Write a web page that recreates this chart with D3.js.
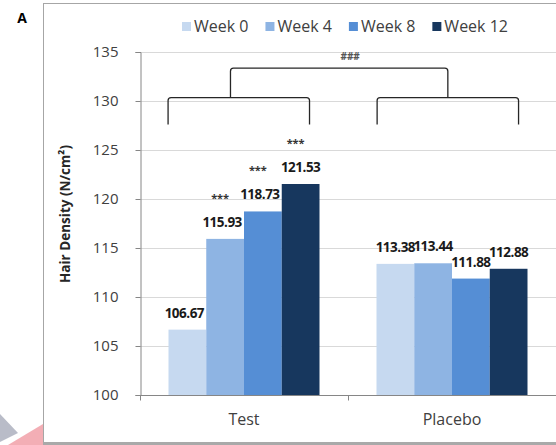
<!DOCTYPE html>
<html>
<head>
<meta charset="utf-8">
<script src="https://cdn.jsdelivr.net/npm/d3@7"></script>
<style>
  body { margin: 0; background: #fff; }
  svg { display: block; font-family: 'Open Sans', sans-serif; }
</style>
</head>
<body>
<div id="chart"></div>
<script>
const groups = ['Test', 'Placebo']
const weeks = ['Week 0', 'Week 4', 'Week 8', 'Week 12']
const testValues = [106.67, 115.93, 118.73, 121.53]
const placeboValues = [113.38, 113.44, 111.88, 112.88]
const testStars = ['', '***', '***', '***']
const placeboStars = ['', '', '', '']
const yTicks = [100, 105, 110, 115, 120, 125, 130, 135]
const colors = ['#c6d9f0', '#8eb4e3', '#558ed5', '#17375e']

// brackets: [group, fraction of band] for each end, plus value levels
const brackets = [
  { a: ['Test', 0.135], b: ['Test', 0.815], top: 130.4, foot: 127.6 },
  { a: ['Placebo', 0.14], b: ['Placebo', 0.82], top: 130.4, foot: 127.6 },
  { a: ['Test', 0.435], b: ['Placebo', 0.48], top: 133.4, foot: 130.4, label: '###' }
]

const width = 556
const height = 445
const margin = { top: 52, right: 0, bottom: 50, left: 140 }

const svg = d3.select('#chart')
  .append('svg')
  .attr('width', width)
  .attr('height', height)

// stray graphic bits at bottom-left
svg.append('polygon')
  .attr('points', '0,414 18,433 0,442')
  .style('fill', '#b9bcc8')
svg.append('polygon')
  .attr('points', '8,445 43,424 43,445')
  .style('fill', '#f3aeb5')

// frame
svg.append('rect')
  .attr('x', 43.5)
  .attr('y', 3.5)
  .attr('width', 540)
  .attr('height', 439)
  .style('fill', '#fff')
  .style('stroke', '#a6a6a6')
svg.append('rect')
  .attr('x', 43)
  .attr('y', 442)
  .attr('width', 513)
  .attr('height', 3)
  .style('fill', '#a9a9a9')

svg.append('text')
  .attr('x', 22)
  .attr('y', 23)
  .attr('text-anchor', 'middle')
  .style('font-weight', 'bold')
  .style('font-size', '14px')
  .text('A')

const x = d3.scaleBand()
  .domain(groups)
  .range([margin.left, width - margin.right])

const xSub = d3.scaleBand()
  .domain(weeks)
  .range([0, x.bandwidth()])
  .paddingOuter(0.755)

const y = d3.scaleLinear()
  .domain([100, 135])
  .range([height - margin.bottom, margin.top])

// gridlines
svg.append('g')
  .selectAll('line')
  .data(yTicks.slice(1))
  .enter()
  .append('line')
  .attr('x1', margin.left)
  .attr('x2', width)
  .attr('y1', d => y(d) + 0.5)
  .attr('y2', d => y(d) + 0.5)
  .style('stroke', '#d9d9d9')

// y axis
const yAxis = svg.append('g')
  .attr('transform', 'translate(' + (margin.left + 0.5) + ',0)')
  .call(d3.axisLeft(y).tickValues(yTicks).tickSize(5).tickPadding(17))
yAxis.selectAll('.domain, line').style('stroke', '#868686')
yAxis.selectAll('text')
  .style('font-size', '15px')
  .style('fill', '#404040')
  .style('font-family', "'Open Sans', sans-serif")

svg.append('text')
  .attr('transform', 'translate(70,214) rotate(-90)')
  .attr('text-anchor', 'middle')
  .style('font-weight', 'bold')
  .style('font-size', '13.5px')
  .style('fill', '#262626')
  .text('Hair Density (N/cm²)')

const rows = [
  { group: 'Test', values: testValues, stars: testStars },
  { group: 'Placebo', values: placeboValues, stars: placeboStars }
]

const bars = rows.flatMap(r => r.values.map((v, i) => ({
  group: r.group, week: weeks[i], i: i, val: v, star: r.stars[i]
})))

svg.append('g')
  .selectAll('rect')
  .data(bars)
  .enter()
  .append('rect')
  .attr('x', d => x(d.group) + xSub(d.week))
  .attr('y', d => y(d.val))
  .attr('width', xSub.bandwidth())
  .attr('height', d => y(100) - y(d.val))
  .style('fill', d => colors[d.i])

// x axis
const xAxisG = svg.append('g')
  .attr('transform', 'translate(0,' + (y(100) + 0.5) + ')')
xAxisG.append('line')
  .attr('x1', margin.left)
  .attr('x2', width)
  .style('stroke', '#868686')
xAxisG.selectAll('.tk')
  .data([margin.left, x('Placebo')])
  .enter()
  .append('line')
  .attr('x1', d => d + 0.5)
  .attr('x2', d => d + 0.5)
  .attr('y2', 5)
  .style('stroke', '#868686')
xAxisG.selectAll('text')
  .data(groups)
  .enter()
  .append('text')
  .attr('x', d => x(d) + x.bandwidth() / 2)
  .attr('y', 29)
  .attr('text-anchor', 'middle')
  .style('font-size', '16px')
  .style('fill', '#404040')
  .text(d => d)

// value labels
svg.append('g')
  .selectAll('text')
  .data(bars)
  .enter()
  .append('text')
  .attr('x', d => x(d.group) + xSub(d.week) + xSub.bandwidth() / 2 - (d.group === 'Test' && d.i < 3 ? 3 : 0))
  .attr('y', d => y(d.val) - 12)
  .attr('text-anchor', 'middle')
  .style('font-weight', 'bold')
  .style('font-size', '13.5px')
  .style('letter-spacing', '-0.5px')
  .style('fill', '#1a1a1a')
  .text(d => d.val.toFixed(2))

svg.append('g')
  .selectAll('text')
  .data(bars.filter(d => d.star))
  .enter()
  .append('text')
  .attr('x', d => x(d.group) + xSub(d.week) + xSub.bandwidth() / 2 - 5)
  .attr('y', d => y(d.val) - 37)
  .attr('text-anchor', 'middle')
  .style('font-weight', 'bold')
  .style('font-size', '11px')
  .style('fill', '#333')
  .text(d => d.star)

// brackets
const bx = e => x(e[0]) + e[1] * x.bandwidth()
const r = 3
brackets.forEach(b => {
  const x0 = bx(b.a)
  const x1 = bx(b.b)
  const yt = y(b.top) + 0.5
  const yf = y(b.foot)
  const p = d3.path()
  p.moveTo(x0, yf)
  p.lineTo(x0, yt + r)
  p.quadraticCurveTo(x0, yt, x0 + r, yt)
  p.lineTo(x1 - r, yt)
  p.quadraticCurveTo(x1, yt, x1, yt + r)
  p.lineTo(x1, yf)
  svg.append('path')
    .attr('d', p.toString())
    .style('fill', 'none')
    .style('stroke', '#262626')
    .style('stroke-width', 1.3)
  if (b.label) {
    svg.append('text')
      .attr('x', (x0 + x1) / 2 + 11)
      .attr('y', yt - 8)
      .attr('text-anchor', 'middle')
      .style('font-size', '10px')
      .style('font-weight', 'bold')
      .style('fill', '#555')
      .text(b.label)
  }
})

// legend
const legend = svg.append('g')
  .attr('transform', 'translate(182,26)')
let lx = 0
weeks.forEach((w, i) => {
  const item = legend.append('g').attr('transform', 'translate(' + lx + ',0)')
  item.append('rect')
    .attr('x', 0)
    .attr('y', -4)
    .attr('width', 9)
    .attr('height', 9)
    .style('fill', colors[i])
  const t = item.append('text')
    .attr('x', 12)
    .attr('y', 6)
    .style('font-size', '16px')
    .style('fill', '#404040')
    .text(w)
  lx += 12 + t.node().getComputedTextLength() + 17
})
</script>
</body>
</html>
